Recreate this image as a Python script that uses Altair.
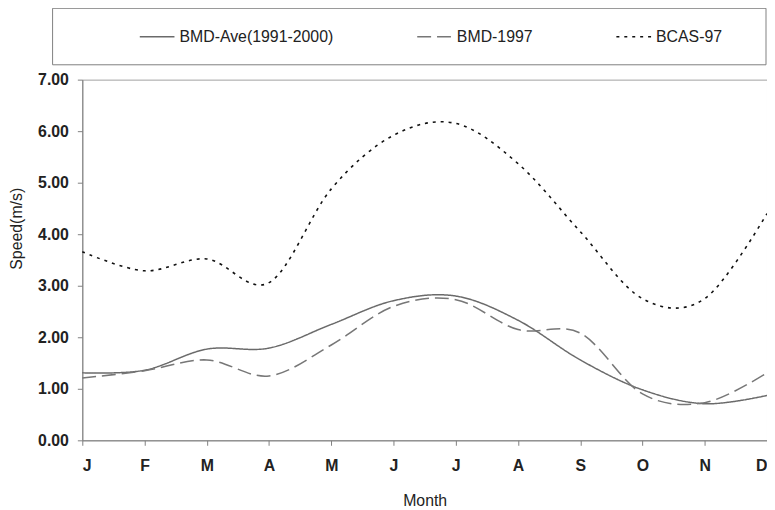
import json
import altair as alt
import pandas as pd

months = ["J", "F", "M", "A", "M", "J", "J", "A", "S", "O", "N", "D"]
series_names = ["BMD-Ave(1991-2000)", "BMD-1997", "BCAS-97"]
bmd_ave = [1.31, 1.36, 1.77, 1.79, 2.25, 2.71, 2.80, 2.33, 1.56, 0.98, 0.71, 0.87]
bmd_1997 = [1.21, 1.35, 1.56, 1.25, 1.85, 2.60, 2.73, 2.15, 2.08, 0.90, 0.73, 1.31]
bcas_97 = [3.66, 3.29, 3.52, 3.06, 4.88, 5.92, 6.15, 5.37, 4.05, 2.75, 2.75, 4.40]
y_ticks = [0, 1, 2, 3, 4, 5, 6, 7]

rows = []
for name, vals in zip(series_names, [bmd_ave, bmd_1997, bcas_97]):
    for i, v in enumerate(vals):
        rows.append({"series": name, "m": i, "v": v})
df = pd.DataFrame(rows)

FONT = "Liberation Sans"
label_expr = json.dumps(months) + "[datum.value]"

legend_def = dict(
    title=None, orient="none", legendX=57, legendY=-62, direction="horizontal",
    symbolType="stroke", symbolSize=1225, symbolStrokeWidth=1.6,
    labelFont=FONT, labelFontSize=16, labelColor="#222222", labelOffset=4,
    columnPadding=80, labelLimit=400,
)

lines = alt.Chart(df).mark_line(interpolate="cardinal").encode(
    x=alt.X("m:Q", scale=alt.Scale(domain=[0, 11], nice=False),
            axis=alt.Axis(values=list(range(12)), labelExpr=label_expr, title="Month",
                          tickSize=5, labelPadding=12, titlePadding=20)),
    y=alt.Y("v:Q", scale=alt.Scale(domain=[0, 7], nice=False),
            axis=alt.Axis(values=y_ticks, format=".2f", title="Speed(m/s)",
                          tickSize=5, labelPadding=9, titleX=-58, titleY=150)),
    color=alt.Color("series:N", sort=series_names,
                    scale=alt.Scale(domain=series_names, range=["#6a6a6a", "#777777", "#111111"]),
                    legend=alt.Legend(**legend_def)),
    strokeDash=alt.StrokeDash("series:N", sort=series_names,
                              scale=alt.Scale(domain=series_names, range=[[1, 0], [14, 6], [3, 5]]),
                              legend=alt.Legend(**legend_def)),
    strokeWidth=alt.StrokeWidth("series:N",
                                scale=alt.Scale(domain=series_names, range=[1.5, 1.6, 2.8]),
                                legend=None),
)

box = alt.Chart(pd.DataFrame({"a": [0]})).mark_rect(
    fill="white", fillOpacity=0, stroke="#808080", strokeWidth=1
).encode(x=alt.value(-30), x2=alt.value(690), y=alt.value(-72), y2=alt.value(-15))

chart = alt.layer(box, lines).properties(
    width=691, height=364, autosize="none",
    padding={"left": 75, "top": 70, "right": 0, "bottom": 66},
).configure_view(stroke="#a0a0a0", strokeWidth=1).configure_axis(
    domainColor="#808080", tickColor="#808080", grid=False,
    labelFont=FONT, labelFontSize=16, labelFontWeight="bold", labelColor="#222222",
    titleFont=FONT, titleFontSize=16, titleFontWeight="normal", titleColor="#222222",
)

chart.save("out.html", embed_options={"renderer": "svg", "actions": False})
